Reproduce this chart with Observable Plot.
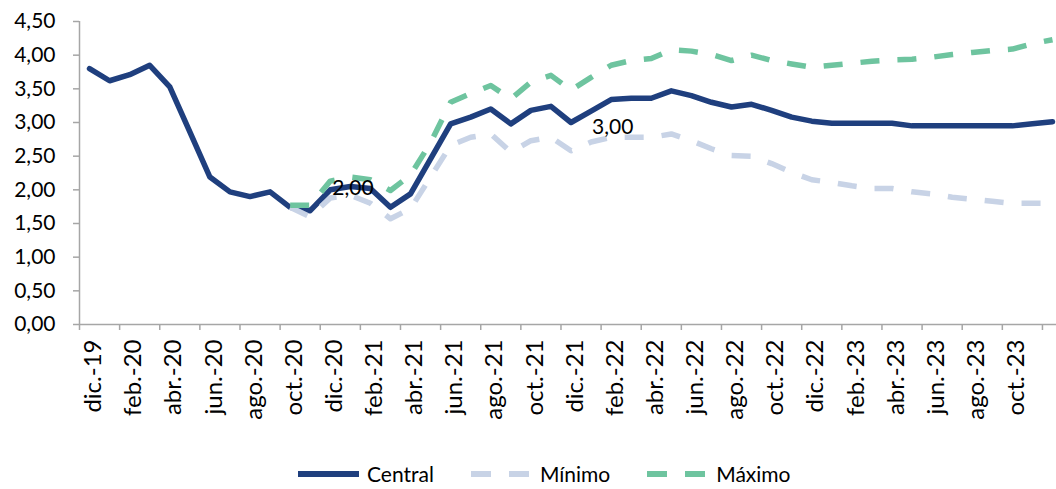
<!DOCTYPE html>
<html>
<head>
<meta charset="utf-8">
<script src="https://cdn.jsdelivr.net/npm/d3@7"></script>
<script src="https://cdn.jsdelivr.net/npm/@observablehq/plot@0.6"></script>
<style>
  html, body { margin: 0; padding: 0; background: #fff; }
  #chart { width: 1056px; }
  .legend { display: flex; align-items: center; height: 49px; box-sizing: border-box; padding-top: 18px; padding-left: 298px; font-family: Lato, sans-serif; font-size: 21px; color: #000; }
  .legend .item { display: flex; align-items: center; margin-right: 37px; }
  .legend svg { display: block; margin-right: 8px; }
</style>
</head>
<body>
<div id="chart"></div>
<script>
// Month labels (dic-19 .. dic-23)
const months = [
  "dic.-19","ene.-20","feb.-20","mar.-20","abr.-20","may.-20","jun.-20","jul.-20","ago.-20","sep.-20","oct.-20","nov.-20",
  "dic.-20","ene.-21","feb.-21","mar.-21","abr.-21","may.-21","jun.-21","jul.-21","ago.-21","sep.-21","oct.-21","nov.-21",
  "dic.-21","ene.-22","feb.-22","mar.-22","abr.-22","may.-22","jun.-22","jul.-22","ago.-22","sep.-22","oct.-22","nov.-22",
  "dic.-22","ene.-23","feb.-23","mar.-23","abr.-23","may.-23","jun.-23","jul.-23","ago.-23","sep.-23","oct.-23","nov.-23",
  "dic.-23"
];
const central = [
  3.80, 3.62, 3.71, 3.85, 3.53, 2.86, 2.19, 1.97, 1.90, 1.97, 1.74, 1.69,
  2.00, 2.05, 2.02, 1.74, 1.94, 2.46, 2.98, 3.08, 3.20, 2.98, 3.18, 3.24,
  3.00, 3.17, 3.34, 3.36, 3.36, 3.47, 3.40, 3.30, 3.23, 3.27, 3.18, 3.08,
  3.02, 2.99, 2.99, 2.99, 2.99, 2.95, 2.95, 2.95, 2.95, 2.95, 2.95, 2.98,
  3.01
];
const minimo = [
  null, null, null, null, null, null, null, null, null, null, 1.74, 1.60,
  1.88, 1.92, 1.80, 1.57, 1.72, 2.19, 2.66, 2.78, 2.83, 2.56, 2.73, 2.78,
  2.58, 2.71, 2.78, 2.78, 2.78, 2.83, 2.73, 2.61, 2.51, 2.50, 2.39, 2.26,
  2.15, 2.11, 2.06, 2.02, 2.02, 1.97, 1.94, 1.89, 1.86, 1.83, 1.80, 1.80,
  1.80
];
const maximo = [
  null, null, null, null, null, null, null, null, null, null, 1.77, 1.77,
  2.13, 2.19, 2.15, 1.99, 2.22, 2.70, 3.30, 3.43, 3.55, 3.35, 3.60, 3.70,
  3.48, 3.67, 3.85, 3.92, 3.95, 4.08, 4.06, 4.01, 3.92, 4.00, 3.92, 3.87,
  3.82, 3.85, 3.88, 3.91, 3.93, 3.94, 3.97, 4.01, 4.04, 4.07, 4.09, 4.17,
  4.23
];
const yTicks = [0, 0.5, 1, 1.5, 2, 2.5, 3, 3.5, 4, 4.5];
const labelDic20 = { i: 12, v: 2.00, text: "2,00" };
const labelDic21 = { i: 24, v: 3.00, text: "3,00" };
const seriesNames = ["Central", "Mínimo", "Máximo"];
const colors = { Central: "#1f3f7e", "Mínimo": "#c8d3e6", "Máximo": "#6ec49f" };

const rows = central.map((c, i) => ({ i, central: c, min: minimo[i], max: maximo[i] }));
const labelIdx = months.map((_, i) => i).filter(i => i % 2 === 0 && i <= 46);
const boundaries = months.map((_, i) => i - 0.5).filter(b => (b + 0.5) % 2 === 0);
const fmt = v => d3.format(".2f")(v).replace(".", ",");
const gray = "#a6a6a6";

const plot = Plot.plot({
  width: 1056,
  height: 440,
  marginLeft: 79,
  marginRight: 0,
  marginTop: 21,
  marginBottom: 116,
  x: { type: "linear", domain: [-0.5, 48.2], axis: null },
  y: { domain: [0, 4.5], axis: null },
  style: { fontFamily: "Lato, sans-serif", fontSize: "21px", color: "#000", background: "#fff" },
  marks: [
    Plot.ruleY([0], { stroke: gray, strokeWidth: 1.5 }),
    Plot.ruleX([-0.5], { stroke: gray, strokeWidth: 1.5 }),
    Plot.axisY(yTicks, { tickSize: 6, tickFormat: () => "", label: null, color: gray, strokeWidth: 1.5 }),
    Plot.axisY(yTicks, { tickSize: 0, tickPadding: 24, tickFormat: fmt, label: null, color: "#000", fontSize: 21 }),
    Plot.axisX(boundaries, { tickSize: 6, tickFormat: () => "", label: null, color: gray, strokeWidth: 1.5 }),
    Plot.axisX(labelIdx, { tickSize: 0, tickPadding: 15, tickRotate: -90, dx: 4, tickFormat: i => months[i], label: null, color: "#000", fontSize: 24 }),
    Plot.line(rows, { x: "i", y: "central", stroke: colors.Central, strokeWidth: 5.5 }),
    Plot.line(rows.filter(d => d.min != null), { x: "i", y: "min", stroke: colors["Mínimo"], strokeWidth: 5.5, strokeDasharray: "19,18", strokeLinecap: "butt" }),
    Plot.line(rows.filter(d => d.max != null), { x: "i", y: "max", stroke: colors["Máximo"], strokeWidth: 5.5, strokeDasharray: "19,18", strokeLinecap: "butt" }),
    Plot.text([labelDic20], { x: "i", y: "v", text: "text", textAnchor: "start", dx: 2, dy: -2, fill: "#000", fontSize: 21 }),
    Plot.text([labelDic21], { x: "i", y: "v", text: "text", textAnchor: "start", dx: 21, dy: 5, fill: "#000", fontSize: 21 })
  ]
});
document.getElementById("chart").appendChild(plot);

// Legend
const legend = document.createElement("div");
legend.className = "legend";
seriesNames.forEach(name => {
  const item = document.createElement("div");
  item.className = "item";
  const dash = name === "Central" ? "" : `stroke-dasharray="20,18"`;
  item.innerHTML = `<svg width="61" height="10"><line x1="0" x2="61" y1="5" y2="5" stroke="${colors[name]}" stroke-width="6" ${dash}/></svg><span>${name}</span>`;
  legend.appendChild(item);
});
document.body.appendChild(legend);
</script>
</body>
</html>
